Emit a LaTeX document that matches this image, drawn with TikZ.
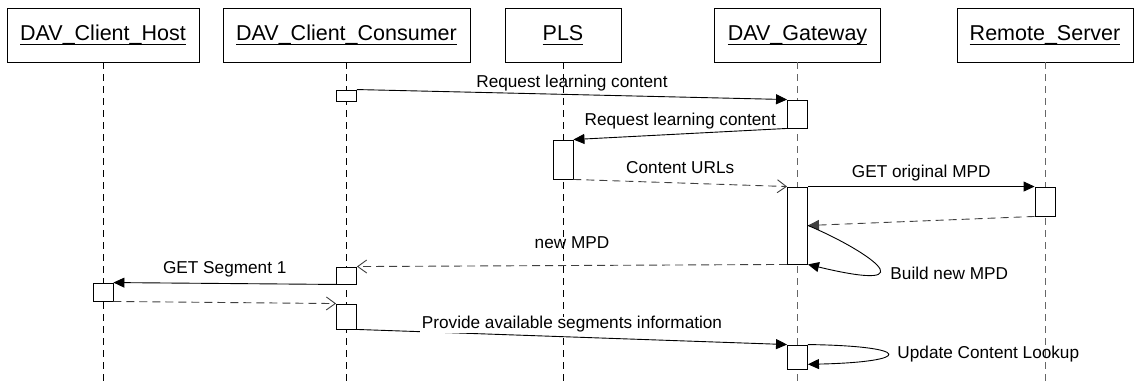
\documentclass[tikz,border=0pt]{standalone}
\usepackage{fontspec}
\setmainfont{Liberation Sans}
\usetikzlibrary{arrows.meta}
\newcommand{\ulname}[1]{\setbox0\hbox{#1}\rlap{\rule[-4.4pt]{\wd0}{1.1pt}}\box0}

\begin{document}
\begin{tikzpicture}[x=1pt, y=-1pt, line width=0.9pt,
  head/.style={draw, minimum height=54, inner sep=0, font=\fontsize{21.5}{26}\selectfont},
  life/.style={dash pattern=on 7pt off 5pt},
  act/.style={draw, fill=white, minimum width=20, inner sep=0},
  msg/.style={-{Triangle[length=11pt,width=10pt]}},
  ret/.style={black!75, dash pattern=on 8pt off 5pt, -{Straight Barb[length=9pt,width=13pt]}},
  lbl/.style={font=\fontsize{17.2}{20}\selectfont, inner sep=2pt, text=black}]
\useasboundingbox (0,0) rectangle (1134,385);
\node[head, minimum width=192] (host) at (103,35) {\ulname{DAV\_Client\_Host}};
\node[head, minimum width=247] (cons) at (346.5,35) {\ulname{DAV\_Client\_Consumer}};
\node[head, minimum width=116] (pls) at (563,35) {\ulname{PLS}};
\node[head, minimum width=166] (gw) at (797.5,35) {\ulname{DAV\_Gateway}};
\node[head, minimum width=176] (rs) at (1045,35) {\ulname{Remote\_Server}};
\coordinate (hostend) at (103,385);
\coordinate (consend) at (346.5,385);
\coordinate (plsend) at (563,385);
\coordinate (gwend) at (797.5,385);
\coordinate (rsend) at (1045,385);
\draw[life] (host) -- (hostend);
\draw[life] (cons) -- (consend);
\draw[life] (pls) -- (plsend);
\draw[life, black!60] (gw) -- (gwend);
\draw[life, black!60] (rs) -- (rsend);
\node[act, minimum height=11] (c1) at (346.5,95.5) {};
\node[act, minimum height=28] (g1) at (797.5,114) {};
\node[act, minimum height=39] (p1) at (563,159.5) {};
\node[act, minimum height=77] (g2) at (797.5,225.5) {};
\node[act, minimum height=29] (r1) at (1045,201.5) {};
\node[act, minimum height=17] (c2) at (346.5,275.5) {};
\node[act, minimum height=18] (h1) at (103,292) {};
\node[act, minimum height=25] (c3) at (346.5,316.5) {};
\node[act, minimum height=24] (g3) at (797.5,357) {};
\draw[msg] (c1.north east) -- node[lbl, above=1pt] {Request learning content} (g1.north west);
\draw[msg] (g1.south west) -- node[lbl, above=2pt] {Request learning content} (p1.north east);
\draw[ret] (p1.south east) -- node[lbl, above=7pt] {Content URLs} (g2.north west);
\draw[msg] (g2.north east) -- node[lbl, above=3pt] {GET original MPD} (r1.north west);
\draw[ret, -{Triangle[length=11pt,width=10pt]}] (r1.south west) -- (g2.east);
\draw[msg] (g2.east) .. controls (862,248) and (935,295) .. (g2.south east);
\node[lbl, anchor=west] (build) at (888,273) {Build new MPD};
\draw[ret] (g2.south west) -- node[lbl, above=14pt] {new MPD} (c2.north east);
\draw[msg] (c2.south west) -- node[lbl, above=4pt] {GET Segment 1} (h1.north east);
\draw[ret] (h1.south east) -- (c3.north west);
\draw[msg] (c3.south east) -- node[lbl, above=4pt, inner ysep=0pt, fill=white] {Provide available segments information} (g3.north west);
\draw[msg] (g3.north east) .. controls (914,346) and (914,362) .. (g3.-35);
\node[lbl, anchor=west] (update) at (895,354) {Update Content Lookup};
\end{tikzpicture}
\end{document}
